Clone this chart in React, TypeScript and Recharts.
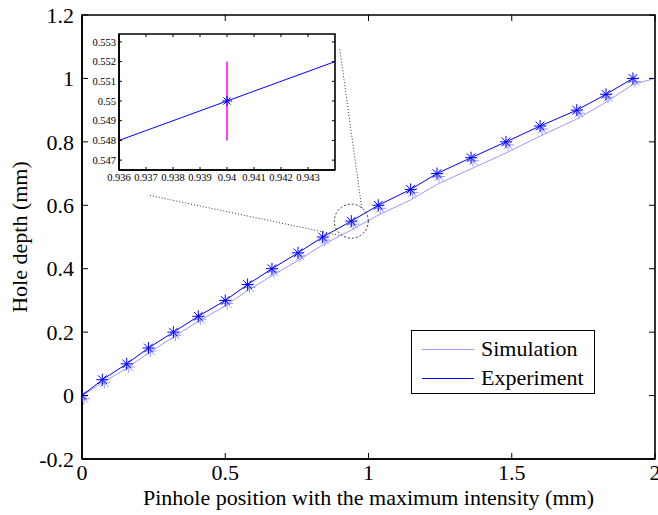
import React from 'react';
import { LineChart, Line, XAxis, YAxis, ReferenceDot, ReferenceLine, ReferenceArea } from 'recharts';

// experiment: pinhole position (mm) vs hole depth (mm)
const expX = [0, 0.071, 0.156, 0.232, 0.319, 0.406, 0.5, 0.578, 0.663, 0.754, 0.84, 0.94, 1.034, 1.147, 1.239, 1.358, 1.48, 1.599, 1.727, 1.829, 1.923];
const expY = [0, 0.05, 0.1, 0.15, 0.2, 0.25, 0.3, 0.35, 0.4, 0.45, 0.5, 0.55, 0.6, 0.65, 0.7, 0.75, 0.8, 0.85, 0.9, 0.95, 1.0];

// simulation curve
const simX = [0, 0.071, 0.156, 0.232, 0.319, 0.406, 0.5, 0.578, 0.663, 0.754, 0.84, 0.94, 1.034, 1.147, 1.239, 1.358, 1.48, 1.599, 1.727, 1.829, 1.923, 2.0];
const simY = [0, 0.041, 0.086, 0.134, 0.184, 0.234, 0.283, 0.331, 0.378, 0.426, 0.475, 0.522, 0.569, 0.617, 0.666, 0.715, 0.765, 0.818, 0.872, 0.925, 0.981, 1.0];

const xTicks = [0, 0.5, 1, 1.5, 2];
const yTicks = [-0.2, 0, 0.2, 0.4, 0.6, 0.8, 1, 1.2];

// inset (zoom around x = 0.94)
const insetX = [0.936, 0.94, 0.944];
const insetY = [0.548, 0.55, 0.552];
const barX = [0.94, 0.94];
const barY = [0.548, 0.552];
const insetXTicks = [0.936, 0.937, 0.938, 0.939, 0.94, 0.941, 0.942, 0.943];
const insetYTicks = [0.547, 0.548, 0.549, 0.55, 0.551, 0.552, 0.553];

const expData = expX.map((x, i) => ({ x, y: expY[i] }));
const simData = simX.map((x, i) => ({ x, y: simY[i] }));
const insetData = insetX.map((x, i) => ({ x, y: insetY[i] }));
const barData = barX.map((x, i) => ({ x, y: barY[i] }));

const FONT = 'Liberation Serif, Times New Roman, Times, serif';
const DARK = '#0000ff';
const LIGHT = '#9a9aff';
const BOX = 1.6;

const star = (cx: number, cy: number, r: number, color: string) => {
  const d = r * 0.72;
  return (
    <g stroke={color} strokeWidth={1}>
      <line x1={cx - r} y1={cy} x2={cx + r} y2={cy} />
      <line x1={cx} y1={cy - r} x2={cx} y2={cy + r} />
      <line x1={cx - d} y1={cy - d} x2={cx + d} y2={cy + d} />
      <line x1={cx - d} y1={cy + d} x2={cx + d} y2={cy - d} />
    </g>
  );
};

const ExpDot = (props: any) => {
  const { cx, cy, index } = props;
  if (cx == null || cy == null) return null;
  return (
    <g key={`e${index}`}>
      {star(cx + 2, cy + 3, 6, LIGHT)}
      {star(cx, cy, 6, DARK)}
    </g>
  );
};

const InsetDot = (props: any) => {
  const { cx, cy, index, payload } = props;
  if (cx == null || payload.x !== 0.94) return <g key={`i${index}`} />;
  return <g key={`i${index}`}>{star(cx, cy, 5, DARK)}</g>;
};

// bottom tick: inward tick at bottom and mirrored one at the top of the box
const makeBottomTick = (len: number, size: number, gap: number, span: number) => (props: any) => {
  const { x, y, payload } = props;
  return (
    <g>
      <line x1={x} y1={y} x2={x} y2={y - len} stroke="#000" />
      <line x1={x} y1={y - span} x2={x} y2={y - span + len} stroke="#000" />
      <text x={x} y={y + gap} textAnchor="middle" fontFamily={FONT} fontSize={size} fill="#000">
        {String(payload.value)}
      </text>
    </g>
  );
};

const makeLeftTick = (len: number, size: number, gap: number, span: number) => (props: any) => {
  const { x, y, payload } = props;
  return (
    <g>
      <line x1={x} y1={y} x2={x + len} y2={y} stroke="#000" />
      <line x1={x + span} y1={y} x2={x + span - len} y2={y} stroke="#000" />
      <text x={x - gap} y={y} dy="0.35em" textAnchor="end" fontFamily={FONT} fontSize={size} fill="#000">
        {String(payload.value)}
      </text>
    </g>
  );
};

const Inset = () => (
  <LineChart width={264} height={166} margin={{ top: 10, right: 4, left: 0, bottom: 0 }}>
    <XAxis type="number" dataKey="x" domain={[0.936, 0.944]} ticks={insetXTicks} interval={0} tickSize={0} tickMargin={0} height={20}
      tick={makeBottomTick(3, 10.5, 11, 136)} axisLine={{ stroke: '#000', strokeWidth: BOX }} allowDataOverflow />
    <YAxis type="number" domain={[0.5465, 0.5534]} ticks={insetYTicks} interval={0} tickSize={0} tickMargin={0} width={44}
      tick={makeLeftTick(3, 10.5, 3, 216)} axisLine={{ stroke: '#000', strokeWidth: BOX }} allowDataOverflow />
    <ReferenceArea x1={0.936} x2={0.944} y1={0.5465} y2={0.5534} fill="#fff" fillOpacity={1} stroke="#000" strokeWidth={BOX} ifOverflow="visible" />
    <Line data={barData} dataKey="y" stroke="#ff00ff" strokeWidth={1.5} dot={false} isAnimationActive={false} />
    <Line data={insetData} dataKey="y" stroke={DARK} strokeWidth={1} dot={InsetDot} isAnimationActive={false} />
  </LineChart>
);

const App = () => (
  <div style={{ position: 'absolute', left: 0, top: 0, width: 658, height: 515, background: '#fff' }}>
    <LineChart width={658} height={515} margin={{ top: 15, right: 3, left: 0, bottom: 0 }}>
      <XAxis type="number" dataKey="x" domain={[0, 2]} ticks={xTicks} interval={0} tickSize={0} tickMargin={0} height={56}
        tick={makeBottomTick(6, 22, 21, 444)} axisLine={{ stroke: '#000', strokeWidth: BOX }} allowDataOverflow
        label={(p: any) => {
          const vb = p.viewBox;
          return (
            <text x={vb.x + vb.width / 2} y={vb.y + 46} textAnchor="middle" fontFamily={FONT} fontSize={22} fill="#000">
              Pinhole position with the maximum intensity (mm)
            </text>
          );
        }} />
      <YAxis type="number" domain={[-0.2, 1.2]} ticks={yTicks} interval={0} tickSize={0} tickMargin={0} width={82}
        tick={makeLeftTick(6, 22, 8, 573)} axisLine={{ stroke: '#000', strokeWidth: BOX }} allowDataOverflow
        label={(p: any) => {
          const vb = p.viewBox;
          const cx = vb.x + 19;
          const cy = vb.y + vb.height / 2;
          return (
            <text x={cx} y={cy} transform={`rotate(-90 ${cx} ${cy})`} textAnchor="middle" dy="0.35em" fontFamily={FONT} fontSize={22} fill="#000">
              Hole depth (mm)
            </text>
          );
        }} />
      <ReferenceArea x1={0} x2={2} y1={-0.2} y2={1.2} fill="none" stroke="#000" strokeWidth={BOX} ifOverflow="visible" />
      <ReferenceLine segment={[{ x: 0.237, y: 0.631 }, { x: 0.9, y: 0.505 }]} stroke="#333" strokeDasharray="1 2" />
      <ReferenceLine segment={[{ x: 0.9, y: 1.091 }, { x: 0.977, y: 0.587 }]} stroke="#333" strokeDasharray="1 2" />
      <ReferenceDot x={0.94} y={0.55} r={17} fill="none" stroke="#333" strokeDasharray="2 2" />
      <Line data={simData} dataKey="y" stroke={LIGHT} strokeWidth={1} dot={false} isAnimationActive={false} />
      <Line data={expData} dataKey="y" stroke={DARK} strokeWidth={1} dot={ExpDot} isAnimationActive={false} />
    </LineChart>
    <div style={{ position: 'absolute', left: 75, top: 24 }}>
      <Inset />
    </div>
    <div style={{ position: 'absolute', left: 411, top: 330, width: 182, height: 62, border: '1.5px solid #000', background: '#fff', fontFamily: FONT, fontSize: 22 }}>
      {[{ name: 'Simulation', color: LIGHT }, { name: 'Experiment', color: DARK }].map((e, i) => (
        <div key={e.name} style={{ position: 'absolute', left: 10, top: 5 + i * 29, height: 26, lineHeight: '26px', display: 'flex', alignItems: 'center' }}>
          <div style={{ width: 52, height: 0, borderTop: `1px solid ${e.color}`, marginRight: 7 }} />
          <span>{e.name}</span>
        </div>
      ))}
    </div>
  </div>
);

export default App;
